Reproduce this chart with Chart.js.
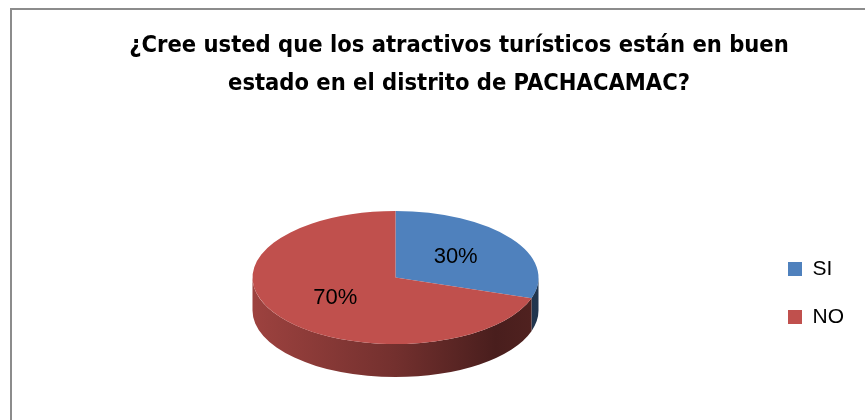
<!DOCTYPE html>
<html>
<head>
<meta charset="utf-8">
<script src="https://cdn.jsdelivr.net/npm/chart.js@4.4.0/dist/chart.umd.min.js"></script>
<style>
  html, body { margin: 0; padding: 0; background: #fff; }
  #wrap { position: relative; width: 865px; height: 420px; overflow: hidden; }
  #frame { position: absolute; left: 10px; top: 8px; width: 900px; height: 500px;
           border-top: 2px solid #8c8c8c; border-left: 2px solid #8c8c8c; }
  #chart { position: absolute; left: 0; top: 0; }
</style>
</head>
<body>
<div id="wrap">
  <div id="frame"></div>
  <canvas id="chart" width="865" height="420"></canvas>
</div>
<script>
const categories = ["SI", "NO"];
const percentages = [30, 70];
const sliceColors = ["#4F81BD", "#C0504D"];
const titleLines = [
  "¿Cree usted que los atractivos turísticos están en buen",
  "estado en el distrito de PACHACAMAC?"
];

// darken a hex colour by factor f
function shade(hex, f) {
  const n = parseInt(hex.slice(1), 16);
  const r = Math.round(((n >> 16) & 255) * f);
  const g = Math.round(((n >> 8) & 255) * f);
  const b = Math.round((n & 255) * f);
  return `rgb(${r},${g},${b})`;
}

// fake 3D pie: squash the library's arcs and add a side wall under them
const pie3d = {
  id: "pie3d",
  beforeDatasetsDraw(chart, args, opts) {
    const arcs = chart.getDatasetMeta(0).data;
    if (!arcs.length) return;
    const ctx = chart.ctx;
    const { x, y, outerRadius: r } = arcs[0];
    const cx = x + opts.shiftX;
    const cy = y + opts.shiftY;
    const ry = r * opts.tilt;

    arcs.forEach((arc, i) => {
      const base = sliceColors[i];
      for (const off of [-2 * Math.PI, 0, 2 * Math.PI]) {
        const a0 = Math.max(arc.startAngle + off, 0);
        const a1 = Math.min(arc.endAngle + off, Math.PI);
        if (a1 <= a0) continue;
        const grad = ctx.createLinearGradient(cx - r, 0, cx + r, 0);
        grad.addColorStop(0, shade(base, 0.82));
        grad.addColorStop(0.5, shade(base, 0.6));
        grad.addColorStop(0.85, shade(base, 0.38));
        grad.addColorStop(1, shade(base, 0.42));
        ctx.beginPath();
        ctx.ellipse(cx, cy, r, ry, 0, a0, a1);
        ctx.ellipse(cx, cy + opts.depth, r, ry, 0, a1, a0, true);
        ctx.closePath();
        ctx.fillStyle = grad;
        ctx.fill();
      }
    });

    ctx.save();
    ctx.translate(cx, cy);
    ctx.scale(1, opts.tilt);
    ctx.translate(-x, -y);
  },
  afterDatasetsDraw(chart, args, opts) {
    const arcs = chart.getDatasetMeta(0).data;
    if (!arcs.length) return;
    const ctx = chart.ctx;
    ctx.restore();
    const { x, y, outerRadius: r } = arcs[0];
    const cx = x + opts.shiftX;
    const cy = y + opts.shiftY;
    ctx.save();
    ctx.font = "22px 'Liberation Sans', Arial, sans-serif";
    ctx.fillStyle = "#000";
    ctx.textAlign = "center";
    ctx.textBaseline = "middle";
    arcs.forEach((arc, i) => {
      const mid = (arc.startAngle + arc.endAngle) / 2;
      const d = r * opts.labelRadius;
      ctx.fillText(percentages[i] + "%", cx + d * Math.cos(mid), cy + d * Math.sin(mid) * opts.tilt);
    });
    ctx.restore();
  }
};

new Chart(document.getElementById("chart"), {
  type: "pie",
  data: {
    labels: categories,
    datasets: [{
      data: percentages,
      backgroundColor: sliceColors,
      borderWidth: 0,
      clip: false
    }]
  },
  options: {
    responsive: false,
    animation: false,
    radius: 143,
    layout: { padding: { left: 64, right: 11 } },
    plugins: {
      title: {
        display: true,
        text: titleLines,
        color: "#000",
        font: { family: "'Liberation Sans Narrow', 'DejaVu Sans Condensed', sans-serif", size: 23.5, weight: "bold", lineHeight: 1.6 },
        padding: { top: 27, bottom: 10 }
      },
      legend: {
        position: "right",
        title: { display: true, text: " ", font: { size: 10 }, padding: { top: 154, bottom: 0 } },
        labels: {
          boxWidth: 14,
          boxHeight: 14,
          color: "#000",
          padding: 27,
          font: { family: "'Liberation Sans', Arial, sans-serif", size: 21 }
        }
      },
      tooltip: { enabled: false },
      pie3d: { tilt: 0.465, depth: 33, shiftX: -17, shiftY: 11.5, labelRadius: 0.52 }
    }
  },
  plugins: [pie3d]
});
</script>
</body>
</html>
